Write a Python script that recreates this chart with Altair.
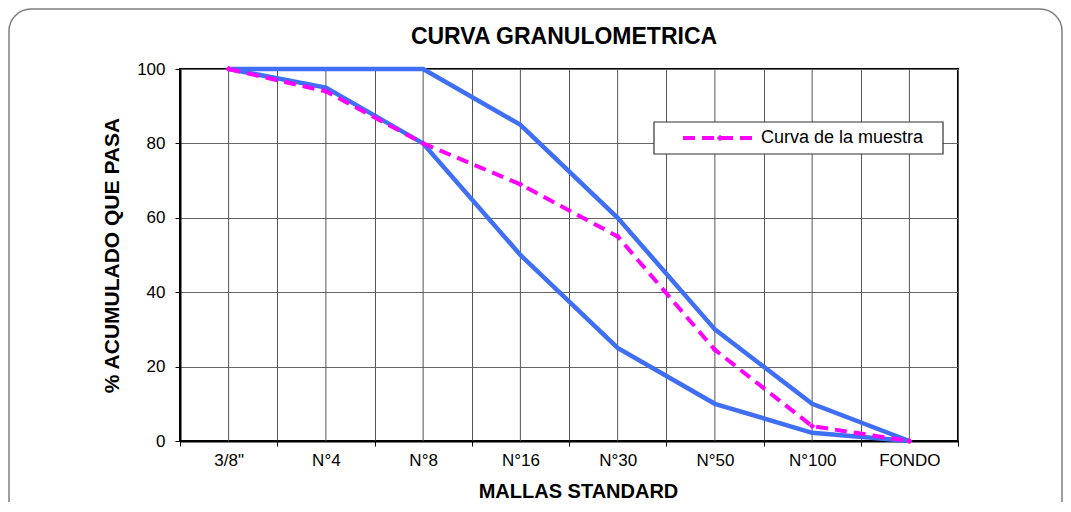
import altair as alt
import pandas as pd

mallas = ['3/8"', 'N°4', 'N°8', 'N°16', 'N°30', 'N°50', 'N°100', 'FONDO']
limite_superior = [100, 100, 100, 85, 60, 30, 10, 0]
limite_inferior = [100, 95, 80, 50, 25, 10, 2.2, 0]
muestra = [100, 94, 80, 69, 55, 24.5, 4, 0]
y_ticks = [0, 20, 40, 60, 80, 100]

FONT = "Liberation Sans"
BLUE = "#3f6ff6"
PINK = "#ff00ff"

W, H = 778, 372

df_lim = pd.DataFrame(
    [{"malla": m, "valor": v, "serie": "sup"} for m, v in zip(mallas, limite_superior)]
    + [{"malla": m, "valor": v, "serie": "inf"} for m, v in zip(mallas, limite_inferior)]
)
df_mu = pd.DataFrame({"malla": mallas, "valor": muestra})
df_cat = pd.DataFrame({"malla": mallas})

x_scale = alt.Scale(domain=mallas, paddingInner=0, paddingOuter=0)
y_scale = alt.Scale(domain=[0, 100], nice=False)

x_axis = alt.Axis(
    title="MALLAS STANDARD",
    labelAngle=0,
    labelAlign="center",
    labelFontSize=17,
    labelColor="black",
    labelPadding=14,
    tickBand="extent",
    tickSize=5,
    tickColor="black",
    grid=True,
    gridColor="#555555",
    gridWidth=1,
    domainColor="black",
    domainWidth=2,
    titleFontSize=20,
    titleFontWeight="bold",
    titleX=398,
    titleY=56,
    titleBaseline="alphabetic",
    titleAlign="center",
)
y_axis = alt.Axis(
    title="% ACUMULADO QUE PASA",
    values=y_ticks,
    labelFontSize=17,
    labelColor="black",
    labelPadding=10,
    tickSize=5,
    tickColor="black",
    grid=True,
    gridColor="#666666",
    gridWidth=1,
    domainColor="black",
    domainWidth=2,
    titleFontSize=21,
    titleFontWeight="bold",
    titleX=-68,
    titleY=H / 2,
    titleAngle=270,
    titleBaseline="middle",
    titleAlign="center",
)

x_enc = alt.X("malla:N", scale=x_scale, sort=mallas, axis=x_axis)
y_enc = alt.Y("valor:Q", scale=y_scale, axis=y_axis)

# vertical gridlines at each sieve (band centre)
center_grid = alt.Chart(df_cat).mark_rule(color="#555555", strokeWidth=1).encode(
    x=alt.X("malla:N", scale=x_scale, sort=mallas, bandPosition=0.5)
)

lineas_lim = alt.Chart(df_lim).mark_line(color=BLUE, strokeWidth=4.5).encode(
    x=x_enc, y=y_enc, detail="serie:N"
)

linea_mu = alt.Chart(df_mu).mark_line(
    color=PINK, strokeWidth=4, strokeDash=[12, 7],
    point=alt.OverlayMarkDef(shape="diamond", size=40, color=PINK, filled=True),
).encode(x=alt.X("malla:N", scale=x_scale, sort=mallas), y=alt.Y("valor:Q", scale=y_scale))

one = pd.DataFrame({"k": [0]})

# chart title
titulo = alt.Chart(one).mark_text(
    text="CURVA  GRANULOMETRICA", fontSize=23, fontWeight="bold", font=FONT,
    align="center", baseline="alphabetic", color="black"
).encode(x=alt.value(384), y=alt.value(-25))

# legend (drawn by hand, Excel style)
leg_box = alt.Chart(one).mark_rect(fill="white", stroke="#333333", strokeWidth=1.2).encode(
    x=alt.value(474), x2=alt.value(763), y=alt.value(53), y2=alt.value(85)
)
leg_line = alt.Chart(one).mark_rule(color=PINK, strokeWidth=4, strokeDash=[12, 7]).encode(
    x=alt.value(503), x2=alt.value(577), y=alt.value(69)
)
leg_pt = alt.Chart(one).mark_point(shape="diamond", size=45, color=PINK, filled=True, opacity=1).encode(
    x=alt.value(540), y=alt.value(69)
)
leg_txt = alt.Chart(one).mark_text(
    text="Curva de la muestra", fontSize=18, font=FONT, align="left", baseline="middle", color="black"
).encode(x=alt.value(581), y=alt.value(69))

# rounded outer frame of the chart
frame = alt.Chart(one).mark_rect(
    fillOpacity=0, stroke="#7f7f7f", strokeWidth=1.5, cornerRadius=22
).encode(x=alt.value(-171), x2=alt.value(882), y=alt.value(-60), y2=alt.value(470))

chart = alt.layer(
    frame, center_grid, lineas_lim, linea_mu, leg_box, leg_line, leg_pt, leg_txt, titulo
).properties(
    width=W,
    height=H,
    autosize=alt.AutoSizeParams(type="none"),
    padding={"left": 172, "top": 61, "right": 105, "bottom": 61},
).configure(
    font=FONT,
    background="white",
).configure_view(
    stroke="black", strokeWidth=2
).configure_axis(
    labelFont=FONT, titleFont=FONT, titleColor="black"
)

chart.save("out.html", embed_options={"renderer": "svg", "actions": False})
